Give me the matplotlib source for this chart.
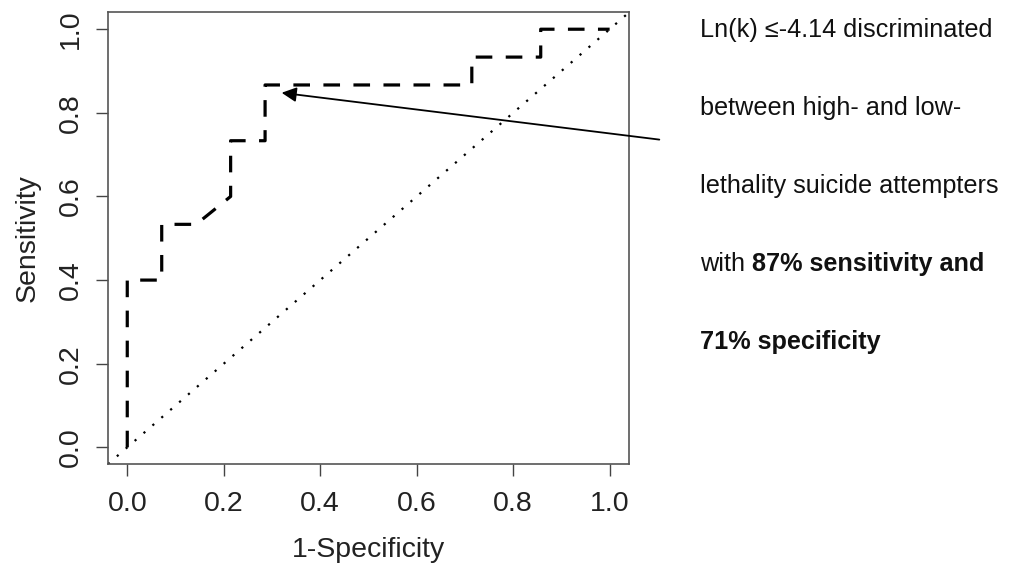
import matplotlib
matplotlib.use("Agg")
import matplotlib.pyplot as plt

# ROC curve points (1-specificity, sensitivity)
fpr = [0, 0, 1/14, 1/14, 2/14, 3/14, 3/14, 4/14, 4/14, 10/14, 10/14, 12/14, 12/14, 1.0]
tpr = [0, 6/15, 6/15, 8/15, 8/15, 9/15, 11/15, 11/15, 13/15, 13/15, 14/15, 14/15, 1.0, 1.0]

ticks = [0.0, 0.2, 0.4, 0.6, 0.8, 1.0]
tick_labels = ["0.0", "0.2", "0.4", "0.6", "0.8", "1.0"]

# cut-off point picked on the curve, and where the arrow starts
cut_point = (0.32, 0.848)
arrow_tail = (1.103, 0.736)

# (regular part, bold part) of each note line
note_lines = [
    ("Ln(k) \u2264-4.14 discriminated", ""),
    ("between high- and low-", ""),
    ("lethality suicide attempters", ""),
    ("with ", "87% sensitivity and"),
    ("", "71% specificity"),
]

plt.rcParams['font.family'] = ['Liberation Sans', 'DejaVu Sans']

fig = plt.figure(figsize=(10.1, 5.68), dpi=100)
ax = fig.add_axes([0.1069, 0.183, 0.5158, 0.795])

ax.plot(fpr, tpr, color='black', lw=2.3, linestyle=(0, (5.2, 4.2)))
ax.axline((0, 0), (1, 1), color='black', lw=1.6, linestyle=(0, (1, 4.3)))

ax.set_xlim(-0.04, 1.04)
ax.set_ylim(-0.04, 1.04)
ax.set_xticks(ticks)
ax.set_xticklabels(tick_labels)
ax.set_yticks(ticks)
ax.set_yticklabels(tick_labels, rotation=90, va='center')
ax.tick_params(axis='both', labelsize=20.5, length=8.5, width=1, color='#444444',
               labelcolor='#222222')
ax.tick_params(axis='x', pad=11)
ax.tick_params(axis='y', pad=9)
for s in ax.spines.values():
    s.set_color('#555555')
    s.set_linewidth(1.2)

ax.set_xlabel("1-Specificity", fontsize=20.5, color='#222222', labelpad=14)
ax.set_ylabel("Sensitivity", fontsize=20.5, color='#222222', labelpad=12)

ax.annotate("", xy=cut_point, xytext=arrow_tail, xycoords='data',
            textcoords='data', annotation_clip=False,
            arrowprops=dict(arrowstyle='-|>', color='black', lw=1.3,
                            mutation_scale=22, shrinkA=0, shrinkB=0))

# note text on the right
fs = 18.2
y0 = 568 - 37
step = 78
for i, (a, b) in enumerate(note_lines):
    y = (y0 - i * step) / 568
    x = 700
    if a:
        t = fig.text(x / 1010, y, a, fontsize=fs, va='baseline', color='#111111')
        fig.canvas.draw()
        x = t.get_window_extent().x1
    if b:
        fig.text(x / 1010, y, b, fontsize=fs, va='baseline', weight='bold',
                 color='#111111')

fig.savefig("out.png", dpi=100)
